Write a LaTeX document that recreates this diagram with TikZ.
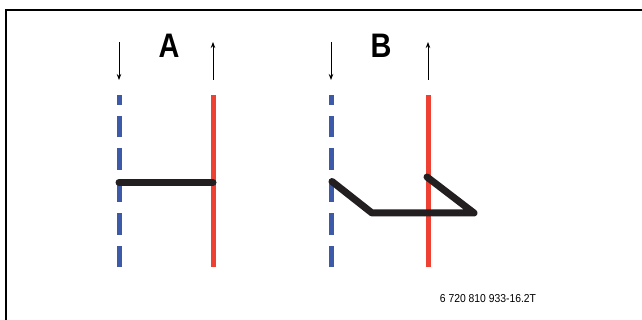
\documentclass[tikz,border=0pt]{standalone}
\usepackage{fontspec}
\setmainfont{Liberation Sans}
\usetikzlibrary{arrows.meta}
\definecolor{coldblue}{HTML}{3C5AA8}
\definecolor{hotred}{HTML}{EF4133}
\definecolor{pipeblack}{HTML}{231F20}

\begin{document}
\begin{tikzpicture}[x=1pt, y=-1pt,
        flow/.style={-{Stealth[length=6pt, width=4.5pt]}, line width=0.8pt},
        cold/.style={coldblue, line width=5pt, dash pattern=on 21.4pt off 11pt},
        hot/.style={hotred, line width=5pt},
        bridge/.style={pipeblack, line width=7pt, line cap=round, line join=round},
        letter/.style={font=\fontsize{34}{34}\selectfont\bfseries, xscale=0.85},
        code/.style={font=\fontsize{11.5}{12}\selectfont, xscale=0.9}]
    \useasboundingbox (0, 0) rectangle (642, 320);
    % frame
    \coordinate (f1) at (642, 10);
    \coordinate (f2) at (6, 10);
    \coordinate (f3) at (6, 320);
    \draw[line width=1.5pt] (f1) -- (f2) -- (f3);

    % A: straight connection
    \coordinate (a1) at (119, 267);
    \coordinate (a2) at (119, 95);
    \coordinate (a3) at (213, 267);
    \coordinate (a4) at (213, 95);
    \coordinate (a5) at (119, 182.5);
    \coordinate (a6) at (213, 182.5);
    \coordinate (ain1) at (119, 42);
    \coordinate (ain2) at (119, 80);
    \coordinate (aout1) at (213, 80);
    \coordinate (aout2) at (213, 42);
    \draw[cold] (a1) -- (a2);
    \draw[hot]  (a3) -- (a4);
    \draw[bridge] (a5) -- (a6);
    \draw[flow] (ain1) -- (ain2);
    \draw[flow] (aout1) -- (aout2);
    \node[letter] (la) at (169, 46) {A};

    % B: crossed connection
    \coordinate (b1) at (331, 267);
    \coordinate (b2) at (331, 95);
    \coordinate (b3) at (428, 267);
    \coordinate (b4) at (428, 95);
    \coordinate (b5) at (332, 181.5);
    \coordinate (b6) at (372, 213);
    \coordinate (b7) at (474, 213);
    \coordinate (b8) at (427, 177);
    \coordinate (bin1) at (331, 42);
    \coordinate (bin2) at (331, 80);
    \coordinate (bout1) at (428, 80);
    \coordinate (bout2) at (428, 42);
    \draw[cold] (b1) -- (b2);
    \draw[hot]  (b3) -- (b4);
    \draw[bridge] (b5) -- (b6) -- (b7) -- (b8);
    \draw[flow] (bin1) -- (bin2);
    \draw[flow] (bout1) -- (bout2);
    \node[letter] (lb) at (381, 46) {B};

    \node[code] (num) at (488, 299) {6 720 810 933-16.2T};
\end{tikzpicture}
\end{document}
